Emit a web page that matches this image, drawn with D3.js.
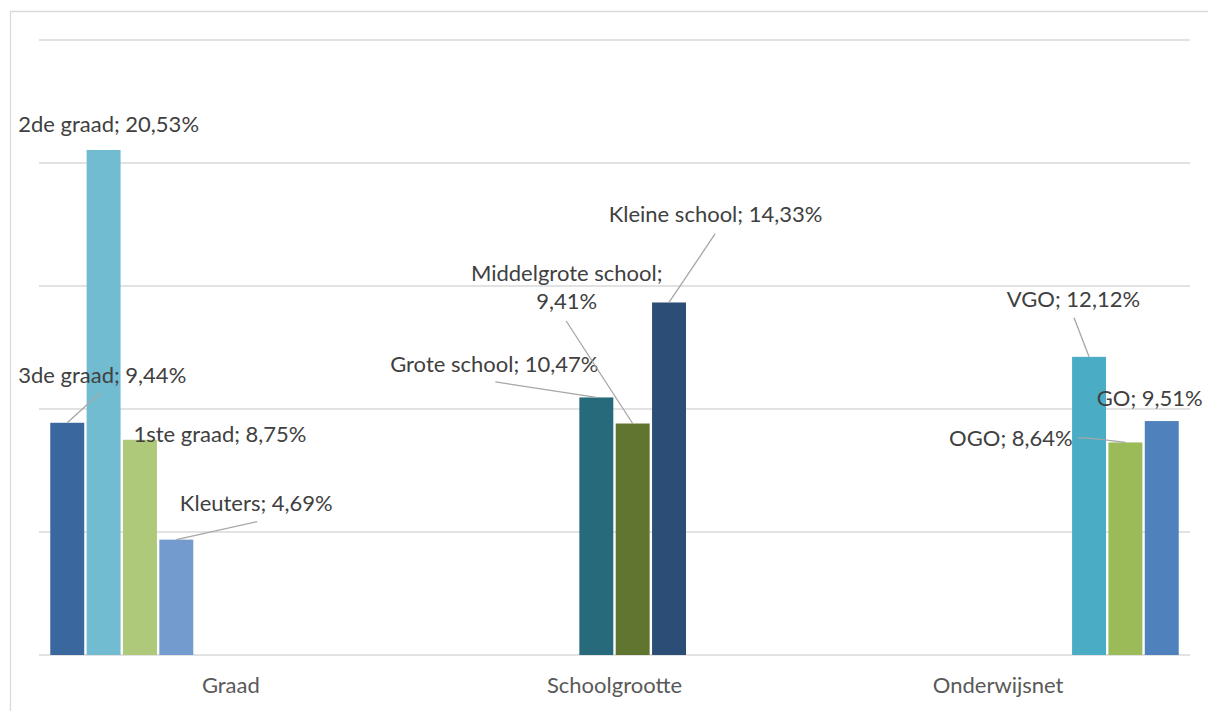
<!DOCTYPE html>
<html>
<head>
<meta charset="utf-8">
<script src="https://cdn.jsdelivr.net/npm/d3@7"></script>
<style>
  html, body { margin: 0; padding: 0; background: #ffffff; }
  svg { display: block; }
  text { font-family: Lato, "Noto Sans", sans-serif; }
</style>
</head>
<body>
<svg id="chart" width="1208" height="711"></svg>
<script>
// ---- data ----
const categories = ["Graad", "Schoolgrootte", "Onderwijsnet"];
const seriesNames = ["3de graad", "2de graad", "1ste graad", "Kleuters",
  "Grote school", "Middelgrote school", "Kleine school", "VGO", "OGO", "GO"];
const seriesCategory = ["Graad", "Graad", "Graad", "Graad",
  "Schoolgrootte", "Schoolgrootte", "Schoolgrootte",
  "Onderwijsnet", "Onderwijsnet", "Onderwijsnet"];
const seriesValues = [9.44, 20.53, 8.75, 4.69, 10.47, 9.41, 14.33, 12.12, 8.64, 9.51];
const valueLabels = ["9,44%", "20,53%", "8,75%", "4,69%", "10,47%", "9,41%", "14,33%", "12,12%", "8,64%", "9,51%"];
const yTicks = [0, 5, 10, 15, 20, 25];

// ---- styling / layout (not data) ----
const seriesColors = ["#3A689E", "#71BCD1", "#AFC97A", "#739BCD",
  "#276A7C", "#5F7530", "#2C4D75", "#4BACC6", "#9BBB59", "#4F81BD"];
// label placement relative to bar top-centre: dx, dy (baseline), anchor, leader points
const labelLayout = [
  { dx: 35, dy: -40, anchor: "middle", leader: [[33, -30], [0, 0]] },
  { dx: 5, dy: -18, anchor: "middle", leader: null },
  { dx: 80, dy: 2, anchor: "middle", leader: null },
  { dx: 80, dy: -29, anchor: "middle", leader: [[81, -18], [0, 0]] },
  { dx: -102, dy: -25.5, anchor: "middle", leader: [[-101, -15.5], [0, 0]] },
  { dx: -66, dy: -142.5, anchor: "middle", twoLine: true, leader: [[-66.5, -102.5], [0, 0]] },
  { dx: 46.5, dy: -80.5, anchor: "middle", leader: [[46, -68.5], [0, 0]] },
  { dx: -15.6, dy: -50, anchor: "middle", leader: [[-15, -39], [0, 0]] },
  { dx: -114.5, dy: 3.5, anchor: "middle", leader: [[-47.5, -4.5], [-36, -4.5], [0, 0]] },
  { dx: 41, dy: -15, anchor: "end", leader: null }
];
const fontSize = 22;

const svg = d3.select("#chart");
const plot = { left: 39, right: 1190, top: 40, bottom: 655 };

// chart border
svg.append("path")
  .attr("d", `M10.5,711 V11.5 H1208`)
  .attr("fill", "none").attr("stroke", "#D9D9D9").attr("stroke-width", 1.3);

const y = d3.scaleLinear().domain([0, 25]).range([plot.bottom, plot.top]);
const x0 = d3.scaleBand().domain(categories).range([plot.left, plot.right]).padding(0);
const x1 = d3.scaleBand().domain(d3.range(seriesNames.length))
  .range([0, x0.bandwidth()]).paddingInner(0.066).paddingOuter(0.31);

// gridlines
svg.append("g").selectAll("line").data(yTicks).join("line")
  .attr("x1", plot.left).attr("x2", plot.right)
  .attr("y1", d => y(d)).attr("y2", d => y(d))
  .attr("stroke", "#D9D9D9").attr("stroke-width", 1.4);

// bars
const bars = seriesNames.map((name, i) => ({
  name, i, cat: seriesCategory[i], value: seriesValues[i], label: valueLabels[i]
}));
svg.append("g").selectAll("rect").data(bars).join("rect")
  .attr("x", d => x0(d.cat) + x1(d.i))
  .attr("width", x1.bandwidth())
  .attr("y", d => y(d.value))
  .attr("height", d => y(0) - y(d.value))
  .attr("fill", d => seriesColors[d.i]);

// category axis labels
const xAxis = d3.axisBottom(x0).tickSize(0).tickPadding(0);
const gx = svg.append("g").attr("transform", `translate(0,${plot.bottom})`).call(xAxis);
gx.select(".domain").remove();
gx.selectAll("text")
  .attr("y", 38).attr("dy", null)
  .style("font-family", "Lato, 'Noto Sans', sans-serif")
  .style("font-size", fontSize + "px").attr("fill", "#595959");

// data labels with leader lines
const lg = svg.append("g");
bars.forEach(d => {
  const L = labelLayout[d.i];
  const cx = x0(d.cat) + x1(d.i) + x1.bandwidth() / 2;
  const cy = y(d.value);
  if (L.leader) {
    const line = d3.line().curve(L.leader.length > 2 ? d3.curveBasis : d3.curveLinear);
    lg.append("path")
      .attr("d", line(L.leader.map(p => [cx + p[0], cy + p[1]])))
      .attr("fill", "none").attr("stroke", "#A6A6A6").attr("stroke-width", 1.3);
  }
  const t = lg.append("text")
    .attr("x", cx + L.dx).attr("y", cy + L.dy)
    .attr("text-anchor", L.anchor)
    .attr("fill", "#404040")
    .style("font-size", fontSize + "px");
  if (L.twoLine) {
    t.append("tspan").attr("x", cx + L.dx).text(d.name + ";");
    t.append("tspan").attr("x", cx + L.dx).attr("dy", 28).text(d.label);
  } else {
    t.text(`${d.name}; ${d.label}`);
  }
});
</script>
</body>
</html>
